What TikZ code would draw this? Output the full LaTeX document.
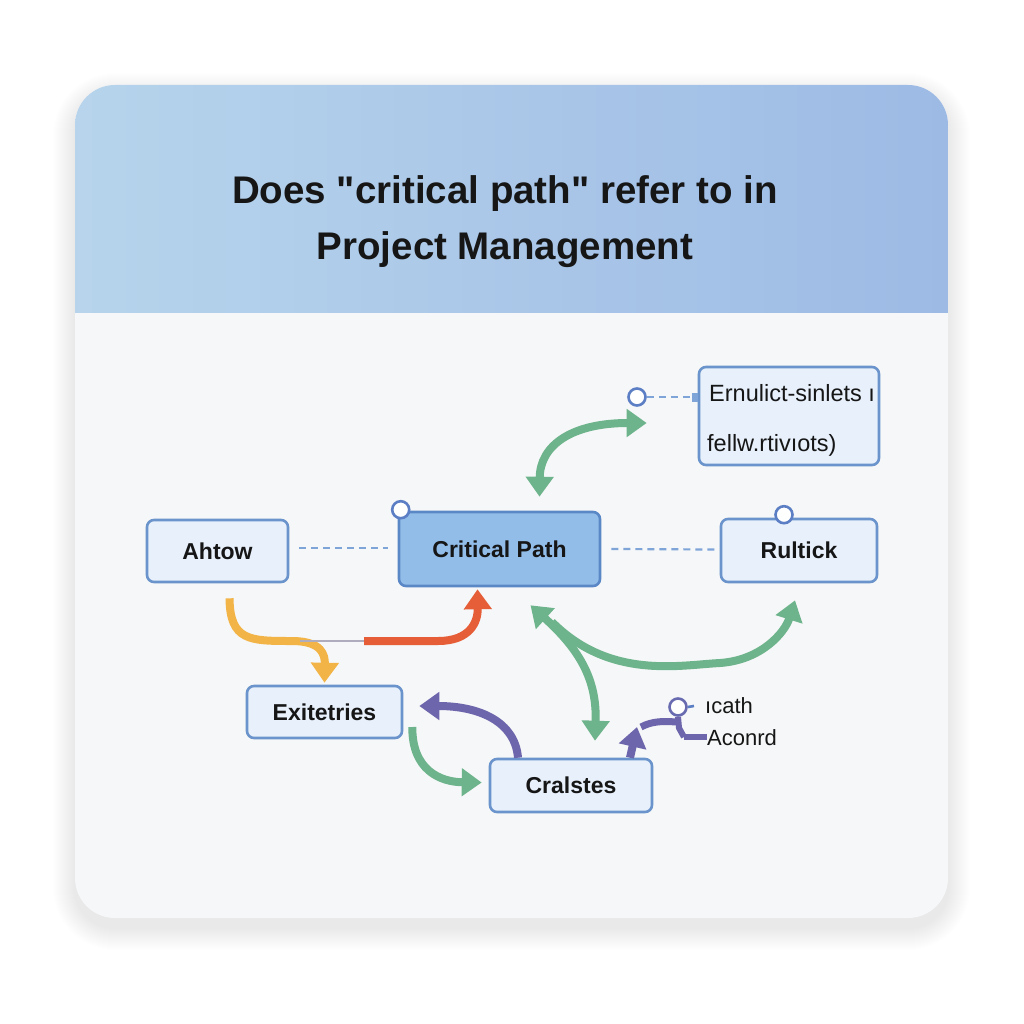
\documentclass[tikz,border=0pt]{standalone}
\usepackage{fontspec}
\setmainfont{Liberation Sans}
\newfontfamily\titlefont{Liberation Sans}[Ligatures=TeXOff]
\usetikzlibrary{arrows.meta,calc}
\definecolor{hdrL}{HTML}{B7D4EC}
\definecolor{hdrR}{HTML}{9DBAE5}
\definecolor{bodyc}{HTML}{F6F7F8}
\definecolor{nodef}{HTML}{E7F0FB}
\definecolor{nodeb}{HTML}{6A94CB}
\definecolor{critf}{HTML}{92BDE9}
\definecolor{critb}{HTML}{5A88C6}
\definecolor{dashc}{HTML}{7EA4D8}
\definecolor{grn}{HTML}{6DB38B}
\definecolor{orng}{HTML}{F2B446}
\definecolor{redo}{HTML}{E65E37}
\definecolor{purp}{HTML}{6D66AC}
\definecolor{pinb}{HTML}{5B7EC4}
\definecolor{txt}{HTML}{161616}
\begin{document}
\begin{tikzpicture}[x=1pt,y=-1pt,
  box/.style={draw=nodeb, fill=nodef, line width=2.6pt, rounded corners=7pt,
    font=\bfseries\fontsize{23}{27}\selectfont, text=txt, inner sep=0pt},
  dashln/.style={draw=dashc, line width=2.2pt, dash pattern=on 7pt off 5pt},
  pin/.style={circle, draw=pinb, fill=white, line width=2.6pt, minimum size=17pt, inner sep=0pt},
  gconn/.style={draw=grn, line width=8pt, >={Triangle[length=20pt,width=27pt]}},
  oconn/.style={draw=orng, line width=8pt, >={Triangle[length=20pt,width=27pt]}},
  rconn/.style={draw=redo, line width=8pt, >={Triangle[length=20pt,width=27pt]}},
  pconn/.style={draw=purp, line width=8pt, >={Triangle[length=20pt,width=27pt]}},
  lbl/.style={font=\fontsize{22}{26}\selectfont, text=txt, inner sep=0pt, anchor=base west}
]
\useasboundingbox (0,0) rectangle (1024,1024);
\fill[white] (0,0) rectangle (1024,1024);

% card shadow
\foreach \i in {1,...,22}{
  \fill[black, opacity=0.005, rounded corners=40pt+\i pt]
    (75-\i,85-\i+10) rectangle (948+\i,918+\i+10);
}
% card
\fill[bodyc, rounded corners=40pt] (75,85) rectangle (948,918);
\begin{scope}
  \clip[rounded corners=40pt] (75,85) rectangle (948,918);
  \shade[left color=hdrL, right color=hdrR] (75,85) rectangle (948,312);
\end{scope}

\node[font=\titlefont\bfseries\fontsize{38.5}{56}\selectfont, align=center, text=txt, inner sep=0pt] (title) at (505,222)
  {Does "critical path" refer to in\\Project Management};

% nodes
\node[box, minimum width=141pt, minimum height=62pt] (ahtow) at (217.5,551) {Ahtow};
\node[box, draw=critb, fill=critf, minimum width=201pt, minimum height=74pt] (crit) at (499.5,549) {Critical Path};
\node[box, minimum width=156pt, minimum height=63pt] (rult) at (799,550.5) {Rultick};
\node[box, minimum width=155pt, minimum height=52pt] (exit) at (324.5,712) {Exitetries};
\node[box, minimum width=162pt, minimum height=53pt] (cral) at (571,785.5) {Cralstes};
\node[box, minimum width=180pt, minimum height=98pt] (topbox) at (789,416) {};
\node[lbl, font=\fontsize{23.5}{28}\selectfont] (tl1) at (709,401) {Ernulict-sinlets ı};
\node[lbl, font=\fontsize{23.5}{28}\selectfont] (tl2) at (707,451) {fellw.rtivıots)};

% pins
\node[pin] (cpin) at ($(crit.north west)+(3,-1)$) {};
\node[pin] (rpin) at ($(rult.north)+(-15,-3)$) {};
\node[pin] (tpin) at (637,397) {};
\node[pin, draw=purp!80!pinb] (apin) at (678,707) {};

% dashed connectors
\draw[dashln] ($(ahtow.east)+(10,-3)$) -- ($(crit.west)+(-10,-1)$);
\draw[dashln] ($(crit.east)+(10,0)$) -- ($(rult.west)+(-3,-1)$);
\draw[dashln, -{Square[length=6pt,width=9pt]}] (tpin.east) -- (topbox.west |- tpin.east);

% green top arrow
\draw[gconn, <->] ($(crit.north)+(40,-14)$) .. controls (540,445) and (572,423) .. ($(topbox.west)+(-51,7)$);

% orange / red
\draw[oconn, ->] ($(ahtow.south)+(12,15)$) .. controls (230,641) and (250,641) .. (292,641)
  .. controls (322,641) and (325,655) .. ($(exit.north)+(0,-2)$);
\draw[draw=gray!60!purp!60, line width=2.2pt] (300,641) -- (366,641);
\draw[rconn, ->] (364,641) -- (438,641) .. controls (470,641) and (478,622) .. ($(crit.south)+(-22,2)$);

% green big arrows
\draw[gconn, <->] ($(crit.south)+(31,18)$) .. controls (580,650) and (597,680) .. ($(cral.north)+(24,-17)$);
\draw[gconn, ->] (552,622) .. controls (610,680) and (680,665) .. (720,663)
  .. controls (762,660) and (785,632) .. ($(rult.south)+(-4,17)$);

% purple and green small arrows
\draw[pconn, ->] ($(cral.north)+(-53,0)$) .. controls (515,722) and (480,706) .. ($(exit.east)+(16,-6)$);
\draw[gconn, ->] ($(exit.east)+(9,15)$) .. controls (412,770) and (440,782) .. ($(cral.west)+(-7,-3)$);
\draw[pconn, ->] ($(cral.north)+(59,0)$) -- (637,727);
\draw[draw=purp, line width=7pt] (641,727) .. controls (652,721) and (664,721) .. (676,722);
\draw[draw=purp, line width=6pt] (apin.south) -- (679,728) -- (684,737);
\draw[draw=purp, line width=6pt] (684,737) -- (707,737);
\draw[draw=pinb, line width=2.6pt] (apin.east) -- (694,706);

\node[lbl] (lcath) at (705,713) {ıcath};
\node[lbl] (lacon) at (707,745) {Aconrd};
\end{tikzpicture}
\end{document}
